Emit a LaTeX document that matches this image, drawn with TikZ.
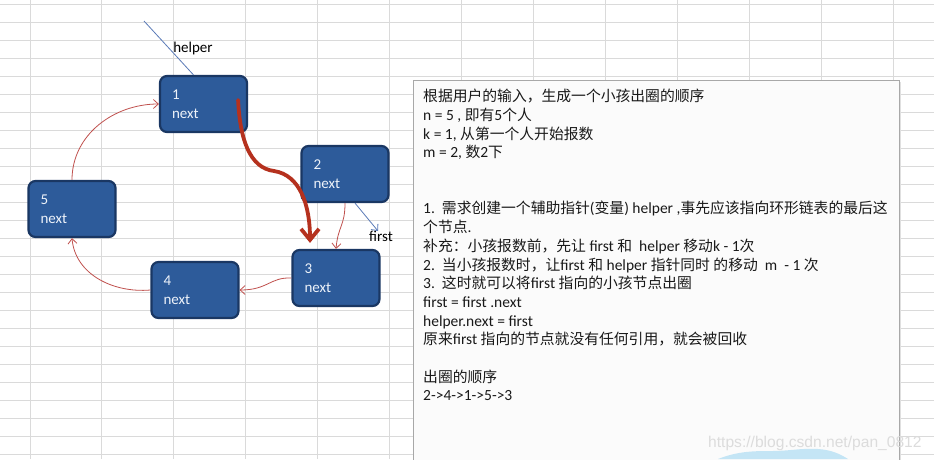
\documentclass[tikz,border=0pt]{standalone}
\usepackage{fontspec}
\setmainfont{Carlito}
\newfontfamily\cjkfam{Noto Sans CJK SC}
\newfontfamily\wmfont{Liberation Sans}
\usetikzlibrary{arrows.meta,calc}
\definecolor{gridc}{HTML}{DADADA}
\definecolor{nodefill}{HTML}{2D5B9A}
\definecolor{nodeline}{HTML}{1A3763}
\definecolor{nodetext}{HTML}{EEF3FA}
\definecolor{redc}{HTML}{C0504D}
\definecolor{darkred}{HTML}{B5311E}
\definecolor{ptrc}{HTML}{5B7BB8}
\definecolor{boxline}{HTML}{A8A8A8}
\definecolor{boxfill}{HTML}{FBFBFB}
\definecolor{wmc}{HTML}{DCDCDC}
\definecolor{blobc}{HTML}{C4E5F5}
\newcommand\zh[1]{{\cjkfam\fontsize{14.8}{18.7}\selectfont #1}}
\begin{document}
\begin{tikzpicture}[x=1pt,y=-1pt,
  gridline/.style={draw=gridc, line width=0.9pt},
  listnode/.style={draw=nodeline, line width=2.2pt, fill=nodefill, rounded corners=7pt,
    minimum width=87pt, minimum height=56pt, text width=63pt, inner xsep=12pt, inner ysep=0pt,
    align=left, text=nodetext, font=\fontsize{15}{18.5}\selectfont},
  redlink/.style={draw=redc, line width=0.8pt, -{Straight Barb[length=5pt,width=9pt]}},
  bigarrow/.style={draw=darkred, line width=3.8pt, line cap=round,
    -{Straight Barb[length=11pt,width=18pt,line width=3.8pt]}},
  ptrline/.style={draw=ptrc, line width=0.8pt},
  ptrarrow/.style={draw=ptrc, line width=0.8pt, -{Straight Barb[length=5pt,width=9pt]}},
  lbl/.style={text=black, font=\fontsize{15}{18}\selectfont, inner sep=0pt},
  notebox/.style={draw=boxline, line width=0.9pt, fill=boxfill, minimum width=486pt,
    minimum height=390pt, inner sep=0pt, anchor=north west},
  noteline/.style={anchor=base west, inner sep=0pt, text=black!90, font=\fontsize{15.5}{18.7}\selectfont},
  watermark/.style={anchor=base west, inner sep=0pt, text=wmc, font=\wmfont\fontsize{15.6}{18}\selectfont}
]
\useasboundingbox (0,0) rectangle (934,459);
\fill[white] (0,0) rectangle (934,459);
% spreadsheet grid
\foreach \k in {0,...,25} \draw[gridline] (0,{4.5+18*\k}) -- (934,{4.5+18*\k});
\foreach \k in {0,...,12} \draw[gridline] ({30+71.92*\k},0) -- ({30+71.92*\k},459);

% text box
\fill[black!12] (415,82) rectangle (901,470);
\node[notebox] (notes) at (413,80) {};
\node[noteline] (t1) at (423,101.7) {\zh{根据用户的输入，生成一个小孩出圈的顺序}};
\node[noteline] (t2) at (423,120.4) {n = 5 , \zh{即有}5\zh{个人}};
\node[noteline] (t3) at (423,139.1) {k = 1, \zh{从第一个人开始报数}};
\node[noteline] (t4) at (423,157.8) {m = 2, \zh{数}2\zh{下}};
\node[noteline] (t5) at (423,213.9) {1.\ \ \zh{需求创建一个辅助指针}(\zh{变量}) helper ,\zh{事先应该指向环形链表的最后这}};
\node[noteline] (t6) at (423,232.6) {\zh{个节点}.};
\node[noteline] (t7) at (423,251.3) {\zh{补充：小孩报数前，先让} first \zh{和}\ \ helper \zh{移动}k - 1\zh{次}};
\node[noteline] (t8) at (423,270.0) {2.\ \ \zh{当小孩报数时，让}first \zh{和} helper \zh{指针同时} \zh{的移动}\ \ m\ \ - 1 \zh{次}};
\node[noteline] (t9) at (423,288.7) {3.\ \ \zh{这时就可以将}first \zh{指向的小孩节点出圈}};
\node[noteline] (t10) at (423,307.4) {first = first .next};
\node[noteline] (t11) at (423,326.1) {helper.next = first};
\node[noteline] (t12) at (423,344.8) {\zh{原来}first \zh{指向的节点就没有任何引用，就会被回收}};
\node[noteline] (t13) at (423,382.2) {\zh{出圈的顺序}};
\node[noteline] (t14) at (423,400.9) {2->4->1->5->3};
\node[watermark] (wm) at (708,447) {https://blog.csdn.net/pan\_0812};
\fill[blobc] (718,459) .. controls (738,451) and (755,451) .. (772,451)
  .. controls (790,451) and (800,448) .. (818,449) .. controls (832,450) and (840,454) .. (848,459) -- cycle;

% list nodes
\node[listnode] (n1) at (203.5,104) {1\\next};
\node[listnode] (n2) at (345,174) {2\\next};
\node[listnode] (n5) at (72,209) {5\\next};
\node[listnode] (n4) at (195,290) {4\\next};
\node[listnode] (n3) at (336,278) {3\\next};

% pointers
\coordinate (hstart) at (144,21);
\draw[ptrline] (hstart) -- ($(n1.north)+(-10,0)$);
\node[lbl] (helperlbl) at (193,48) {helper};
\coordinate (fend) at (378,231);
\draw[ptrarrow] ($(n2.south)+(10,0)$) -- (fend);
\node[lbl] (firstlbl) at (381,236) {first};

% ring links
\draw[redlink] (n5.north) to[out=90,in=180] (n1.west);
\draw[redlink] (n4.west) to[out=185,in=-85] (n5.south);
\draw[redlink] (n3.west) .. controls (270,277) and (268,290) .. (n4.east);
\draw[redlink] (n2.south) .. controls (345,226) and (338,226) .. (n3.north);

% big move arrow
\coordinate (bigstart) at ($(n1.east)+(-10,-4)$);
\coordinate (bigend) at ($(n3.north)+(-26,-6)$);
\draw[bigarrow] (bigstart) .. controls (240,140) and (250,168) .. (274,171)
  .. controls (300,175) and (310,205) .. (bigend);
\end{tikzpicture}
\end{document}
